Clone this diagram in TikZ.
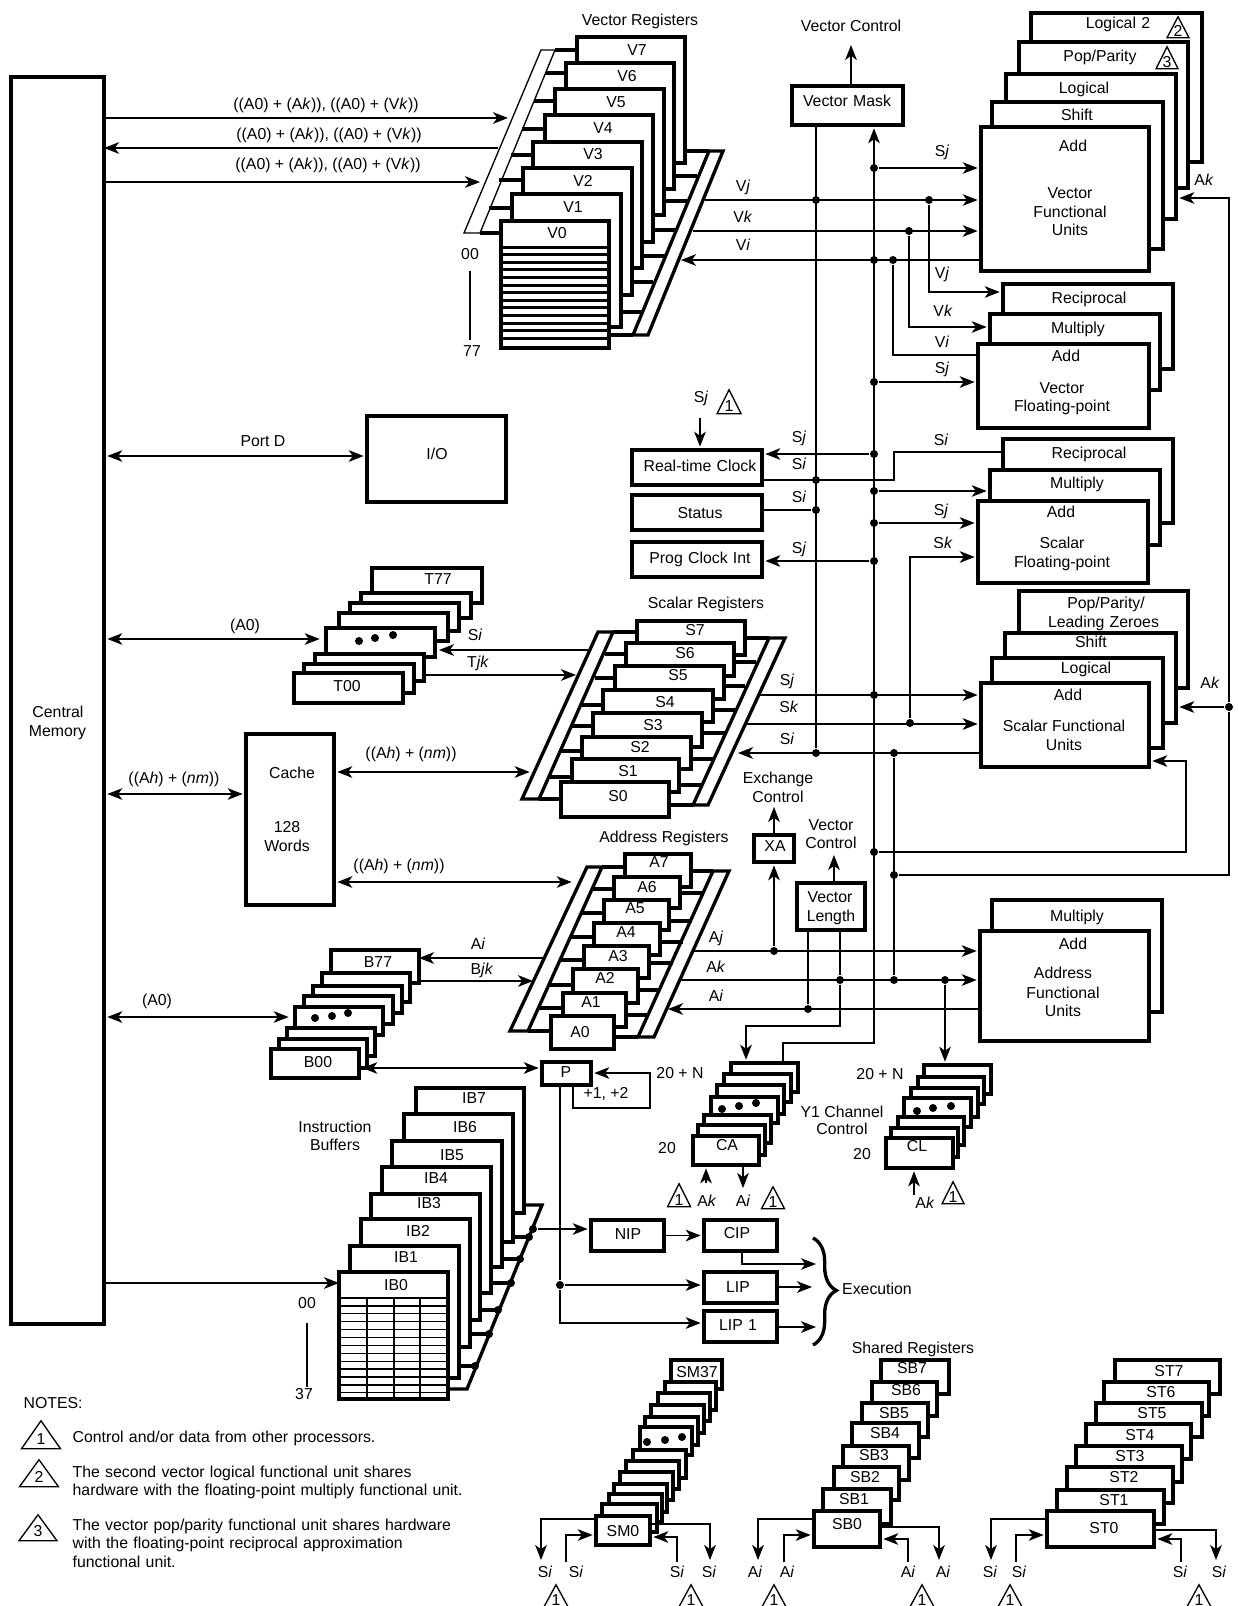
\documentclass[tikz,border=0pt]{standalone}
\usepackage{fontspec}
\setmainfont{Liberation Sans}
\usetikzlibrary{positioning, arrows.meta, calc, shapes.geometric, decorations.pathreplacing}

\begin{document}
\begin{tikzpicture}[x=0.6pt, y=-0.6pt, >={Stealth[length=9pt,width=7pt,inset=2.5pt]}, line width=0.8pt,
    font=\fontsize{9.5}{11.2}\selectfont,
    regbox/.style n args={6}{draw, line width=2pt, fill=white, anchor=north west, inner sep=0pt, outer sep=0pt,
      align=center, minimum width=(#3-#1)*0.6pt, minimum height=(#4-#2)*0.6pt, text width=(#3-#1)*0.6pt,
      text height=(#6-#2+5.5)*0.6pt, text depth=(#4-#6-5.5)*0.6pt,
      execute at begin node={\pgfmathsetlengthmacro\dxlab{(#5-(#1+#3)/2)*1.2pt}\hspace*{\dxlab}}},
    lab/.style={inner sep=0pt, text height=6.8pt, text depth=0pt},
    notetext/.style={inner sep=0pt, anchor=base west, text width=260pt, align=left},
    dot/.style={circle, fill=black, inner sep=0pt, minimum size=4.8pt},
    notetri/.style n args={2}{draw, isosceles triangle, shape border rotate=90, isosceles triangle stretches,
      minimum width=#1*0.6pt, minimum height=#2*0.6pt, inner sep=0pt, anchor=apex, text height=0pt, text depth=0pt},
    stub/.style={line width=2pt},
    tobox/.style={->, shorten >=2pt},
    both/.style={<->, shorten >=2pt, shorten <=2pt}]
  \useasboundingbox (0,0) rectangle (1238,1606);
  \draw (464,233) -- (541,50) -- (555,50) -- (480,233) -- cycle;
  \draw[stub] (709,151) -- (723,151) -- (648,335) -- (633,335) -- cycle;
  \draw[stub] (522,799) -- (598,632) -- (613,632) -- (539,799) -- cycle;
  \draw[stub] (769,638) -- (785,638) -- (708,805) -- (693,805) -- cycle;
  \draw[stub] (510,1031) -- (587,867) -- (602,867) -- (528,1031) -- cycle;
  \draw[stub] (713,871) -- (729,871) -- (654,1037) -- (638,1037) -- cycle;
  \draw[stub] (524,1205) -- (542,1205) -- (467,1389) -- (448,1389);
  \foreach \xa/\xb/\ya in {555/577/50, 546/566/73, 534/555/101, 522/545/129, 511/533/155, 499/523/180, 489/512/208, 480/501/233,
      685/709/151, 674/697/176, 664/687/201, 653/677/230, 642/665/256, 632/653/282, 621/641/312, 609/633/335,
      613/637/632, 605/626/654, 595/615/678, 582/603/705, 572/593/726, 560/582/751, 548/572/777, 539/561/799,
      745/769/638, 734/756/662, 724/745/686, 713/735/710, 702/725/733, 691/713/759, 679/702/785, 669/693/805,
      602/625/867, 593/614/889, 582/604/913, 571/594/937, 560/584/960, 549/573/985, 539/563/1008, 528/551/1031,
      691/713/871, 680/704/893, 669/692/921, 660/683/942, 649/673/963, 638/660/990, 626/648/1015, 614/638/1037,
      513/529/1237, 502/520/1259, 491/511/1283, 480/498/1310, 470/489/1334, 459/475/1366}
    \draw[stub] (\xa,\ya) -- (\xb,\ya);
  \foreach \nm/\xa/\ya/\xb/\yb/\tx/\ty/\str in {
      v7/577/37/685/163/637/50/V7, v6/566/63/674/189/627/76/V6, v5/555/89/664/215/616/102/V5, v4/545/115/653/242/603/128/V4,
      v3/533/142/642/268/593/154/V3, v2/523/168/632/295/583/181/V2, v1/512/194/621/327/573/207/V1, v0/501/221/609/348/557/233/V0,
      vlogb/1031/13/1202/162/1118/23/Logical 2, vpop/1019/42/1188/188/1100/56/{Pop/Parity}, vlog/1006/74/1176/219/1084/88/Logical,
      vshift/992/102/1163/249/1077/115/Shift, vadd/981/127/1149/271/1073/146/Add,
      vm/792/86/903/125/847/101/Vector Mask,
      vrec/1003/284/1173/369/1089/298/Reciprocal, vmul/990/314/1160/390/1078/328/Multiply, vfa/978/344/1149/428/1066/356/Add,
      srec/1003/439/1173/523/1089/453/Reciprocal, smul/990/470/1160/545/1077/483/Multiply, sfpa/978/501/1148/583/1061/512/Add,
      spop/1019/591/1188/688/1106/603/{Pop/Parity/\\Leading Zeroes}, sshift/1005/633/1176/723/1091/642/Shift,
      slog/992/658/1163/748/1086/668/Logical, sadd/981/683/1149/767/1068/695/Add,
      rtc/632/450/762/485/700/466/Real-time Clock, sta/632/495/762/530/700/513/Status, pci/632/542/762/577/700/558/Prog Clock Int,
      io/367/416/506/502/437/454/{I/O}, cm/11/77/104/1324/58/712/{Central\\Memory}, cache/246/734/334/905/292/773/Cache,
      t77/372/568/482/603/438/579/T77, t6/361/593/471/618/416/601/{}, t5/350/603/459/631/400/611/{}, t4/339/613/448/641/390/621/{},
      tdots/326/628/435/657/380/636/{}, t2/315/654/424/681/370/662/{}, t1/304/664/414/693/360/672/{}, t00/294/673/403/703/347/686/T00,
      s7/637/621/745/655/695/630/S7, s6/626/643/734/676/685/653/S6, s5/615/666/724/699/678/675/S5, s4/603/690/713/722/665/702/S4,
      s3/593/713/702/747/653/725/S3, s2/582/737/691/769/640/747/S2, s1/572/759/679/792/628/771/S1, s0/561/782/669/817/618/796/S0,
      xa/754/835/794/862/775/846/XA, vl/797/883/865/930/830/897/{Vector\\Length},
      a7/625/854/691/887/659/862/A7, a6/614/877/680/908/647/887/A6, a5/604/900/669/930/635/908/A5, a4/594/923/660/955/626/932/A4,
      a3/584/946/649/978/618/956/A3, a2/573/969/638/1003/605/978/A2, a1/563/993/626/1027/591/1002/A1, a0/551/1016/614/1049/580/1032/A0,
      amul/992/900/1162/1012/1077/916/Multiply, aadd/980/931/1149/1041/1073/944/Add,
      b77/331/950/419/983/378/962/B77, b6/322/973/410/1002/366/981/{}, b5/313/986/402/1013/357/994/{}, b4/304/996/393/1024/348/1004/{},
      bdots/295/1007/383/1035/339/1015/{}, b2/287/1028/375/1056/331/1036/{}, b1/279/1039/367/1068/323/1047/{}, b00/271/1049/359/1078/318/1062/B00,
      p/542/1062/591/1085/566/1072/P,
      ib7/416/1088/524/1213/474/1098/IB7, ib6/404/1114/513/1242/465/1127/IB6, ib5/392/1141/502/1267/452/1155/IB5, ib4/382/1167/491/1293/436/1178/IB4,
      ib3/371/1194/480/1320/429/1203/IB3, ib2/361/1219/470/1347/418/1231/IB2, ib1/350/1246/459/1378/406/1257/IB1, ib0/339/1272/448/1399/396/1285/IB0,
      ca7/731/1063/798/1092/765/1071/{}, ca6/724/1074/791/1102/758/1082/{}, ca5/717/1085/784/1114/751/1093/{}, cadots/711/1097/778/1123/745/1105/{},
      ca3/704/1115/771/1143/738/1123/{}, ca2/698/1125/765/1155/732/1133/{}, ca/693/1136/759/1165/727/1145/CA,
      cl7/924/1065/991/1094/958/1073/{}, cl6/918/1077/984/1104/951/1085/{}, cl5/911/1088/978/1117/945/1096/{}, cldots/904/1098/971/1127/938/1106/{},
      cl3/898/1117/964/1145/931/1125/{}, cl2/891/1128/958/1157/925/1136/{}, cl/886/1138/953/1168/917/1146/CL,
      nip/591/1220/664/1251/628/1234/NIP, cip/704/1220/777/1251/737/1233/CIP, lip/704/1272/777/1303/738/1287/LIP, lipb/704/1311/777/1342/738/1325/LIP 1,
      sm37/671/1360/722/1389/697/1372/SM37, sm11/665/1382/716/1410/690/1390/{}, sm10/658/1393/710/1421/684/1401/{}, sm9/651/1405/704/1433/677/1413/{},
      sm8/645/1417/698/1445/671/1425/{}, smdots/640/1427/692/1455/666/1435/{}, sm6/633/1450/686/1478/659/1458/{}, sm5/626/1461/679/1489/652/1469/{},
      sm4/620/1472/673/1500/646/1480/{}, sm3/614/1484/667/1512/640/1492/{}, sm2/609/1494/662/1522/635/1502/{}, sm1/602/1504/657/1532/629/1512/{}, sm0/596/1516/650/1545/623/1531/SM0,
      sb7/881/1360/949/1394/912/1368/SB7, sb6/872/1382/937/1416/906/1390/SB6, sb5/862/1403/928/1437/894/1413/SB5, sb4/852/1423/919/1458/885/1433/SB4,
      sb3/843/1446/909/1480/874/1455/SB3, sb2/834/1467/899/1500/865/1477/SB2, sb1/823/1489/891/1524/854/1499/SB1, sb0/814/1511/880/1547/847/1524/SB0,
      st7/1115/1360/1220/1394/1169/1371/ST7, st6/1104/1382/1209/1416/1161/1392/ST6, st5/1096/1403/1202/1437/1152/1413/ST5, st4/1086/1424/1191/1459/1140/1435/ST4,
      st3/1076/1446/1182/1482/1130/1456/ST3, st2/1067/1467/1173/1503/1124/1477/ST2, st1/1057/1490/1164/1524/1114/1500/ST1, st0/1047/1511/1154/1547/1104/1528/ST0}
    \node[regbox={\xa}{\ya}{\xb}{\yb}{\tx}{\ty}] (\nm) at (\xa,\ya) {\str};
  \foreach \ya in {247,254.6,...,340}
    \draw[line width=1.8pt] (v0.west |- 0,\ya) -- (v0.east |- 0,\ya);
  \foreach \ya in {1298,1305.9,...,1394}
    \draw (ib0.west |- 0,\ya) -- (ib0.east |- 0,\ya);
  \foreach \xa in {367,394,420}
    \draw (\xa,1298) -- (ib0.south -| \xa,0);
  \foreach \xa/\ya/\str [count=\i] in {
      640/20/Vector Registers, 851/26/Vector Control,
      326/104/{((A0) + (A\textit{k})), ((A0) + (V\textit{k}))}, 329/134/{((A0) + (A\textit{k})), ((A0) + (V\textit{k}))}, 328/164/{((A0) + (A\textit{k})), ((A0) + (V\textit{k}))},
      743/186/V\textit{j}, 743/217/V\textit{k}, 743/245/V\textit{i}, 470/254/00, 472/351/77,
      942/151/S\textit{j}, 942/273/V\textit{j}, 943/311/V\textit{k}, 942/342/V\textit{i}, 942/368/S\textit{j}, 1204/180/A\textit{k},
      1070/193/Vector, 1070/212/Functional, 1070/230/Units, 1062/388/Vector, 1062/406/Floating-point,
      263/441/Port D, 701/397/S\textit{j}, 799/437/S\textit{j}, 799/464/S\textit{i}, 799/497/S\textit{i}, 799/548/S\textit{j},
      941/440/S\textit{i}, 941/510/S\textit{j}, 943/543/S\textit{k}, 1062/543/Scalar, 1062/562/Floating-point,
      706/603/Scalar Registers, 475/635/S\textit{i}, 478/662/T\textit{jk}, 245/625/(A0),
      787/680/S\textit{j}, 789/707/S\textit{k}, 787/739/S\textit{i}, 1210/683/A\textit{k}, 1064/726/Scalar Functional, 1064/745/Units,
      411/753/{((A\textit{h}) + (\textit{nm}))}, 174/778/{((A\textit{h}) + (\textit{nm}))}, 399/865/{((A\textit{h}) + (\textit{nm}))}, 287/827/128, 287/846/Words,
      778/778/Exchange, 778/797/Control, 831/825/Vector, 831/843/Control, 664/837/Address Registers,
      716/937/A\textit{j}, 716/967/A\textit{k}, 716/996/A\textit{i}, 478/944/A\textit{i}, 482/969/B\textit{jk}, 157/1000/(A0),
      1063/973/Address, 1063/993/Functional, 1063/1011/Units,
      680/1073/20 + N, 606/1093/{+1, +2}, 335/1127/Instruction, 335/1145/Buffers, 667/1148/20, 880/1074/20 + N, 862/1154/20,
      842/1112/Y1 Channel, 842/1129/Control, 707/1201/A\textit{k}, 743/1201/A\textit{i}, 925/1203/A\textit{k}, 307/1303/00, 304/1394/37,
      877/1289/Execution, 913/1348/Shared Registers,
      545/1572/S\textit{i}, 576/1572/S\textit{i}, 677/1572/S\textit{i}, 709/1572/S\textit{i},
      755/1572/A\textit{i}, 787/1572/A\textit{i}, 908/1572/A\textit{i}, 943/1572/A\textit{i},
      990/1572/S\textit{i}, 1019/1572/S\textit{i}, 1180/1572/S\textit{i}, 1219/1572/S\textit{i}}
    \node[lab] (lab\i) at (\xa,\ya) {\str};
  \foreach \xa/\ya/\triw/\trih/\str [count=\i] in {
      1178/15/22/21/2, 1167/45/22/22/3, 729/388/24/24/1, 679/1182/23/23/1, 773/1185/23/22/1, 953/1180/22/22/1,
      556/1583/24/22/1, 691/1583/24/22/1, 774/1583/24/22/1, 922/1583/24/22/1, 1010/1583/24/22/1, 1199/1583/24/22/1,
      41/1419/39/28/1, 39/1458/39/27/2, 38/1513/38/26/3}
    \node[notetri={\triw}{\trih}] (tri\i) at (\xa,\ya) {\makebox[0pt]{\raisebox{-3.3pt}{\str}}};
  \node[lab, anchor=west] (notes) at (23,1403) {NOTES:};
  \node[notetext] (note1) at (72,1442) {Control and/or data from other processors.};
  \node[notetext] (note2) at (72,1477) {The second vector logical functional unit shares\\hardware with the floating-point multiply functional unit.};
  \node[notetext] (note3) at (72,1530) {The vector pop/parity functional unit shares hardware\\with the floating-point reciprocal approximation\\functional unit.};
  \foreach \nm/\xa/\ya in {sja/874/168, vja/816/200, vjb/929/200, vkb/909/231, via/874/260, vib/893/260, sjb/874/382,
      rtcj/874/454, rtci/816/480, sta1/816/510, fpa/874/491, fpj/874/523, pcij/874/561, sfj/874/695, sfk/910/723, sfia/816/753, sfib/894/753,
      xret/874/852, aret/894/875, akdot/1229/707, aja/774/951, akb/840/980, akc/894/980, akd/945/980, aib/808/1009, pdot/560/1285,
      ibt/533/1229, iba/529/1237, ibb/520/1259, ibc/511/1283, ibd/498/1310, ibe/489/1334, ibf/475/1366,
      td1/359/641, td2/375/638, td3/393/635, bd1/315/1018, bd2/332/1016, bd3/348/1013,
      cad1/722/1109, cad2/739/1106, cad3/756/1103, cld1/917/1111, cld2/933/1108, cld3/951/1106,
      smd1/647/1442, smd2/665/1440, smd3/682/1437}
    \node[dot] (\nm) at (\xa,\ya) {};
  \foreach \nm/\xa/\ya in {vaa/508/118, vab/498/148, vac/480/182, vjs/705/200, vks/693/231, vie/681/260,
      vjr/1003/292, vkr/990/327, vir/978/355, vret/1176/198, srt/894/452, skr/978/557,
      tin/323/639, tsi/588/650, tse/439/650, tjs/426/675, tje/576/675, chs/533/772, cha/575/882, cmc/240/794, cmp/364/456,
      sjs/760/695, sks/746/724, sie/738/753, sret/1186/761, xtop/774/807, vlt/834/855,
      ajs/693/951, aks/680/980, aie/668/1009, bai/545/958, bjs/533/981, bin/292/1017, pb/362/1068,
      pfb/573/1108, pfc/650/1073, iin/337/1283, plb/704/1323, cain/746/1026, bus/874/1043, cat/783/1063,
      caak/706/1183, caai/743/1188, clak/914/1195, cex/742/1264, exa/816/1264, exb/812/1287, exc/816/1327, bra/813/1238, brb/813/1345,
      vmt/851/45, rclk/700/418, vnull/816/125, vrowa/470/271, vrowb/470/340, irowa/307/1323, irowb/307/1387}
    \coordinate (\nm) at (\xa,\ya);
  \draw (vrowa) -- (vrowb);
  \draw (irowa) -- (irowb);
  \draw[->] (vm.north -| vmt) -- (vmt);
  \draw[->] (cm.east |- vaa) -- (vaa);
  \draw[->] (vab) -- (cm.east |- vab);
  \draw[->] (cm.east |- vac) -- (vac);
  \draw[both] (cm.east |- cmp) -- (io.west |- cmp);
  \draw[both] (cm.east |- tin) -- (tin);
  \draw[both] (cm.east |- cmc) -- (cache.west |- cmc);
  \draw[both] (cm.east |- bin) -- (bin);
  \draw[->] (cm.east |- iin) -- (ib0.west |- iin);
  \draw[tobox] (vjs) -- (vadd.west |- vjs);
  \draw[tobox] (vks) -- (vadd.west |- vks);
  \draw[->] (vadd.west |- vie) -- (vie);
  \draw[tobox] (sja) -- (vadd.west |- sja);
  \draw[tobox] (vjb) |- (vjr);
  \draw[tobox] (vkb) |- (vkr);
  \draw[line width=1.5pt] (vib) |- (vir);
  \draw[tobox] (sjb) -- (vfa.west |- sjb);
  \draw (vnull) -- (sfia);
  \draw[tobox] (cat) |- (bus) -- (vm.south -| bus);
  \draw (sfib) -- (akc);
  \draw[tobox] (rclk) -- (rtc.north -| rclk);
  \draw[tobox] (rtcj) -- (rtc.east |- rtcj);
  \draw (rtc.east |- rtci) -| (srt) -- (srec.west |- srt);
  \draw (sta.east |- sta1) -- (sta1);
  \draw[tobox] (fpa) -- (smul.west |- fpa);
  \draw[tobox] (fpj) -- (sfpa.west |- fpj);
  \draw[tobox] (pcij) -- (pci.east |- pcij);
  \draw[tobox] (sfk) |- (skr);
  \draw[->] (tsi) -- (tse);
  \draw[->] (tjs) -- (tje);
  \draw[both] (cache.east |- chs) -- (chs);
  \draw[both] (cache.east |- cha) -- (cha);
  \draw[tobox] (sjs) -- (sadd.west |- sjs);
  \draw[tobox] (sks) -- (sadd.west |- sks);
  \draw[->] (sadd.west |- sie) -- (sie);
  \draw[tobox] (xret) -| (sret) -- (sadd.east |- sret);
  \draw[tobox] (aret) -| (akdot) |- (vlog.east |- vret);
  \draw[tobox] (akdot) -- (sshift.east |- akdot);
  \draw[tobox] (aja) -- (xa.south -| aja);
  \draw[->] (xa.north -| aja) -- (xtop);
  \draw[->] (vl.north -| vlt) -- (vlt);
  \draw (vl.south -| aib) -- (aib);
  \draw[tobox] (vl.south -| akb) -- (akb) |- (cain) -- (ca7.north -| cain);
  \draw[tobox] (ajs) -- (aadd.west |- ajs);
  \draw[tobox] (aks) -- (aadd.west |- aks);
  \draw[->] (aadd.west |- aie) -- (aie);
  \draw[tobox] (akd) -- (cl7.north -| akd);
  \draw[->] (bai) -- (b77.east |- bai);
  \draw[->] (b77.east |- bjs) -- (bjs);
  \draw[both] (b00.east |- pb) -- (p.west |- pb);
  \draw[tobox] (p.south -| pfb) -- (pfb) -| (pfc) -- (p.east |- pfc);
  \draw[tobox] (p.south -| pdot) -- (pdot) |- (plb);
  \draw[tobox] (pdot) -- (lip.west |- pdot);
  \draw[tobox] (ibt) -- (nip.west |- ibt);
  \draw[tobox] (nip) -- (cip);
  \draw[->] (cip.south -| cex) -- (cex) -- (exa);
  \draw[->] (lip.east |- exb) -- (exb);
  \draw[->] (lipb.east |- exc) -- (exc);
  \draw[decorate, decoration={brace, amplitude=14pt, aspect=0.49}, line width=2pt] (bra) -- (brb);
  \draw[tobox] (caak) -- (ca.south -| caak);
  \draw[->] (ca.south -| caai) -- (caai);
  \draw[tobox] (clak) -- (cl.south -| clak);
  \foreach \bx/\xa/\xb/\xc/\xd/\ya/\yb/\yc/\yd in {sm0/541/566/677/710/1519/1535/1537/1524, sb0/758/784/908/939/1519/1535/1539/1527, st0/991/1016/1181/1216/1519/1535/1539/1530} {
    \coordinate (\bx la) at (\xa,\ya);
    \coordinate (\bx lb) at (\xb,\yb);
    \coordinate (\bx rb) at (\xc,\yc);
    \coordinate (\bx ra) at (\xd,\yd);
    \draw[->] (\bx.west |- \bx la) -- (\bx la) -- (\xa,1560);
    \draw[tobox] (\xb,1562) -- (\bx lb) -- (\bx.west |- \bx lb);
    \draw[tobox] (\xc,1562) -- (\bx rb) -- (\bx.east |- \bx rb);
    \draw[->] (\bx.east |- \bx ra) -- (\bx ra) -- (\xd,1560);
  }
\end{tikzpicture}
\end{document}
